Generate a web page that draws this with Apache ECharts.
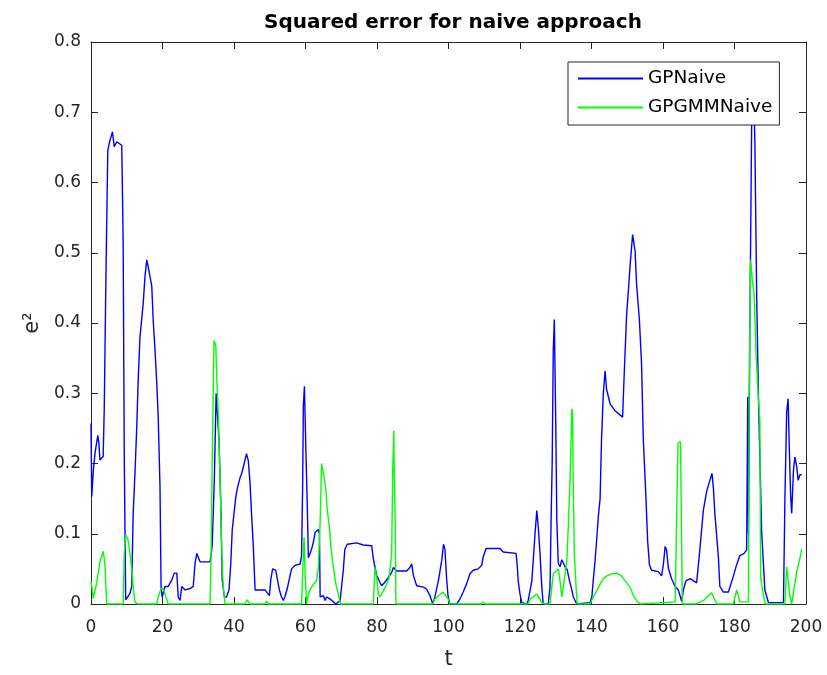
<!DOCTYPE html>
<html>
<head>
<meta charset="utf-8">
<script src="https://cdn.jsdelivr.net/npm/echarts@6/dist/echarts.min.js"></script>
<style>html,body{margin:0;padding:0;background:#fff}#c{width:827px;height:675px}</style>
</head>
<body>
<div id="c"></div>
<script>
const titleText = 'Squared error for naive approach';
const seriesNames = ['GPNaive', 'GPGMMNaive'];
const xTickValues = [0, 20, 40, 60, 80, 100, 120, 140, 160, 180, 200];
const yTickValues = [0, 0.1, 0.2, 0.3, 0.4, 0.5, 0.6, 0.7, 0.8];

const gpNaiveT = [0,0.2,0.65,1.1,1.9,2.2,2.5,3.4,3.7,4.2,4.7,5.3,6.0,6.5,7.2,8.6,9.0,9.3,9.7,10.9,11.4,11.8,12.3,12.8,13.2,13.7,14.6,15.1,15.6,16.0,16.5,17.0,17.4,17.9,18.4,18.8,19.3,19.6,19.9,20.7,21.6,22.6,23.3,24.0,24.4,24.9,25.4,26.3,27.7,28.6,29.1,29.6,30.0,30.5,33.3,33.6,33.9,34.5,35.0,35.4,35.8,36.3,36.7,37.3,37.9,38.6,39.1,39.5,40.0,40.5,41.0,41.7,42.1,42.6,43.5,44.0,44.5,44.9,45.4,45.9,48.7,49.9,50.3,50.8,51.7,52.1,52.7,53.3,53.8,54.3,54.9,55.5,56.1,57.1,58.5,58.9,59.2,59.4,59.7,59.9,60.1,60.5,60.8,61.1,61.7,62.2,62.7,63.6,63.9,64.1,65.0,65.5,65.9,66.9,67.8,68.5,69.7,70.6,71.0,71.7,74.3,76.2,78.5,79.0,79.4,79.9,80.8,81.3,82.2,83.2,84.1,84.6,85.5,88.3,89.2,89.7,90.2,91.1,93.0,93.9,94.8,95.6,96.2,97.2,98.1,98.6,99.0,99.5,99.9,100.4,102.3,103.2,104.1,105.1,106.0,106.9,108.3,109.3,109.7,110.5,114.4,115.3,118.9,119.2,119.5,120.0,120.5,121.9,122.3,123.3,123.7,124.2,124.7,125.1,125.6,126.1,126.5,127.9,128.4,128.7,129.0,129.3,129.6,130.0,130.3,130.7,131.2,131.7,132.6,133.2,133.8,134.5,134.9,135.9,139.6,140.1,140.5,141.0,141.5,141.9,142.4,142.8,143.3,143.8,144.2,145.2,146.6,148.7,149.1,149.8,150.8,151.5,152.2,152.6,153.4,154.0,154.5,155.2,155.7,156.2,156.8,158.7,159.6,160.1,160.6,161.0,161.5,162.4,163.4,164.3,165.2,165.7,166.4,167.6,169.4,170.3,171.3,172.2,173.1,173.7,174.1,174.5,175.0,175.5,175.9,176.9,178.3,179.7,180.6,181.5,182.7,183.4,183.7,183.9,184.3,184.8,185.3,185.7,186.2,186.7,187.1,187.6,188.1,188.5,189.5,193.7,194.1,194.6,195.0,195.3,195.7,196.0,196.5,196.9,197.4,197.8,198.3,198.8];
const gpNaiveV = [0.257,0.153,0.19,0.214,0.24,0.229,0.205,0.21,0.276,0.475,0.646,0.66,0.672,0.651,0.658,0.653,0.513,0.214,0.006,0.015,0.025,0.129,0.186,0.252,0.319,0.38,0.428,0.466,0.49,0.48,0.466,0.452,0.404,0.362,0.314,0.267,0.167,0.025,0.01,0.025,0.025,0.034,0.044,0.044,0.01,0.005,0.025,0.02,0.022,0.025,0.058,0.072,0.07,0.06,0.06,0.07,0.083,0.177,0.3,0.3,0.233,0.143,0.034,0.01,0.01,0.02,0.058,0.105,0.129,0.152,0.166,0.18,0.185,0.195,0.214,0.204,0.171,0.129,0.082,0.02,0.02,0.012,0.035,0.05,0.048,0.036,0.02,0.01,0.005,0.011,0.022,0.036,0.05,0.055,0.057,0.069,0.168,0.283,0.31,0.31,0.22,0.14,0.066,0.064,0.078,0.088,0.102,0.106,0.1,0.01,0.012,0.005,0.01,0.007,0.003,0.0,0.005,0.05,0.078,0.085,0.087,0.084,0.083,0.064,0.053,0.041,0.031,0.026,0.031,0.038,0.045,0.052,0.047,0.047,0.052,0.057,0.04,0.026,0.024,0.021,0.012,0.0,0.01,0.034,0.062,0.085,0.078,0.034,0.01,0.0,0.0,0.007,0.017,0.029,0.043,0.048,0.05,0.055,0.067,0.079,0.079,0.074,0.072,0.057,0.033,0.014,0.002,0.0,0.005,0.033,0.062,0.1,0.133,0.11,0.072,0.024,0.0,0.0,0.024,0.12,0.2,0.36,0.405,0.258,0.12,0.058,0.053,0.063,0.053,0.049,0.034,0.02,0.01,0.0,0.002,0.01,0.034,0.062,0.095,0.124,0.15,0.233,0.3,0.332,0.306,0.285,0.275,0.266,0.321,0.409,0.482,0.526,0.502,0.456,0.404,0.342,0.233,0.155,0.09,0.056,0.048,0.046,0.04,0.056,0.082,0.077,0.051,0.036,0.025,0.02,0.004,0.02,0.033,0.036,0.03,0.077,0.134,0.16,0.176,0.186,0.165,0.129,0.098,0.066,0.025,0.017,0.017,0.04,0.056,0.069,0.072,0.077,0.295,0.1,0.394,0.685,0.75,0.658,0.44,0.295,0.207,0.103,0.056,0.02,0.002,0.002,0.15,0.274,0.292,0.228,0.155,0.129,0.191,0.209,0.196,0.176,0.184,0.184];

const gpgmmNaiveT = [0,0.65,1.6,2.5,3.45,3.9,4.4,9.0,9.3,9.7,10.3,10.7,11.4,11.8,12.3,13.0,18.4,18.8,19.6,20.2,20.7,21.6,33.3,33.6,33.9,34.4,34.9,35.2,35.6,36.1,36.6,37.0,37.5,43.0,43.7,44.5,48.7,49.1,49.6,58.9,59.2,59.6,59.9,60.3,60.8,61.3,62.2,63.1,63.6,64.1,64.5,64.8,65.2,65.7,66.1,66.7,67.1,67.8,68.5,69.2,69.8,79.0,79.4,79.9,80.4,80.8,81.8,82.7,83.4,84.1,84.4,84.7,84.8,85.1,85.3,95.6,96.2,98.5,99.9,100.4,109.2,109.7,110.2,122.3,122.8,124.7,126.1,127.0,128.4,128.9,129.3,130.1,130.7,131.2,131.7,132.1,132.6,133.1,133.5,134.0,134.5,134.7,134.9,135.2,135.7,136.0,139.6,140.5,141.5,142.4,143.3,144.3,145.6,147.0,148.4,149.4,150.8,151.7,152.6,153.6,163.4,163.8,164.2,164.9,165.4,169.4,171.5,173.6,175.0,179.7,180.6,181.5,183.9,184.1,184.5,185.0,185.5,186.0,186.6,187.1,187.3,187.8,188.6,194.1,194.6,195.0,195.5,196.0,196.5,197.4,198.3,198.8];
const gpgmmNaiveV = [0.033,0.008,0.03,0.06,0.075,0.055,0.0,0.0,0.07,0.098,0.093,0.08,0.05,0.025,0.003,0.0,0.0,0.01,0.022,0.022,0.014,0.0,0.0,0.07,0.2,0.375,0.368,0.32,0.27,0.18,0.07,0.025,0.0,0.0,0.006,0.0,0.0,0.004,0.0,0.0,0.043,0.095,0.043,0.0,0.014,0.021,0.028,0.033,0.052,0.118,0.2,0.2,0.181,0.162,0.133,0.109,0.081,0.052,0.028,0.014,0.0,0.0,0.052,0.038,0.014,0.01,0.019,0.028,0.038,0.071,0.19,0.247,0.19,0.118,0.0,0.0,0.007,0.017,0.007,0.0,0.0,0.003,0.0,0.0,0.007,0.014,0.002,0.0,0.0,0.024,0.043,0.047,0.05,0.033,0.01,0.024,0.043,0.062,0.109,0.176,0.278,0.271,0.166,0.071,0.024,0.0,0.0,0.01,0.019,0.028,0.036,0.04,0.043,0.044,0.04,0.033,0.024,0.012,0.005,0.0,0.003,0.12,0.229,0.231,0.0,0.0,0.006,0.016,0.0,0.0,0.02,0.003,0.003,0.3,0.49,0.46,0.44,0.36,0.3,0.26,0.04,0.02,0.0,0.0,0.053,0.035,0.01,0.0,0.017,0.046,0.065,0.078];

const zip = (ts, vs) => ts.map((t, i) => [t, vs[i]]);
const axisColor = '#262626';
const font = "'DejaVu Sans', 'Liberation Sans', Arial, sans-serif";

const chart = echarts.init(document.getElementById('c'), null, {renderer: 'canvas'});
const baseX = {
  type: 'value', min: xTickValues[0], max: xTickValues[xTickValues.length - 1],
  interval: xTickValues[1] - xTickValues[0],
  axisLine: {show: true, onZero: false, lineStyle: {color: axisColor, width: 1}},
  axisTick: {show: true, inside: true, length: 7, lineStyle: {color: axisColor}},
  splitLine: {show: false}
};
const baseY = {
  type: 'value', min: yTickValues[0], max: yTickValues[yTickValues.length - 1],
  interval: 0.1,
  axisLine: {show: true, onZero: false, lineStyle: {color: axisColor, width: 1}},
  axisTick: {show: true, inside: true, length: 7, lineStyle: {color: axisColor}},
  splitLine: {show: false}
};
chart.setOption({
  animation: false,
  backgroundColor: '#fff',
  title: {
    text: titleText, left: 448, top: 8, textAlign: 'center',
    textStyle: {fontFamily: font, fontSize: 20, fontWeight: 'bold', color: '#000'}
  },
  grid: {left: 91, right: 21, top: 42, bottom: 71, containLabel: false},
  legend: {
    orient: 'vertical', left: 568, top: 62, z: 20,
    padding: [7, 7, 8, 10], itemGap: 10,
    itemWidth: 65, itemHeight: 2, icon: 'rect',
    backgroundColor: '#fff', borderColor: axisColor, borderWidth: 1,
    textStyle: {fontFamily: font, fontSize: 18.5, color: '#000', lineHeight: 19},
    data: seriesNames
  },
  xAxis: [
    Object.assign({}, baseX, {
      position: 'bottom',
      axisLabel: {fontFamily: font, fontSize: 17, color: axisColor, margin: 15},
      name: 't', nameLocation: 'middle', nameGap: 45,
      nameTextStyle: {fontFamily: font, fontSize: 21, color: axisColor}
    }),
    Object.assign({}, baseX, {position: 'top', axisLabel: {show: false}})
  ],
  yAxis: [
    Object.assign({}, baseY, {
      position: 'left',
      axisLabel: {fontFamily: font, fontSize: 17, color: axisColor, margin: 10,
        formatter: v => String(Math.round(v * 10) / 10)},
      name: 'e²', nameLocation: 'middle', nameGap: 47, nameRotate: 90,
      nameTextStyle: {fontFamily: font, fontSize: 21, color: axisColor}
    }),
    Object.assign({}, baseY, {position: 'right', axisLabel: {show: false}})
  ],
  series: [
    {name: seriesNames[0], type: 'line', data: zip(gpNaiveT, gpNaiveV), showSymbol: false, symbol: 'none',
     lineStyle: {color: '#0000ff', width: 1.4}, itemStyle: {color: '#0000ff'}, xAxisIndex: 0, yAxisIndex: 0, z: 2},
    {name: seriesNames[1], type: 'line', data: zip(gpgmmNaiveT, gpgmmNaiveV), showSymbol: false, symbol: 'none',
     lineStyle: {color: '#00ff00', width: 1.4}, itemStyle: {color: '#00ff00'}, xAxisIndex: 0, yAxisIndex: 0, z: 3}
  ]
});
</script>
</body>
</html>
